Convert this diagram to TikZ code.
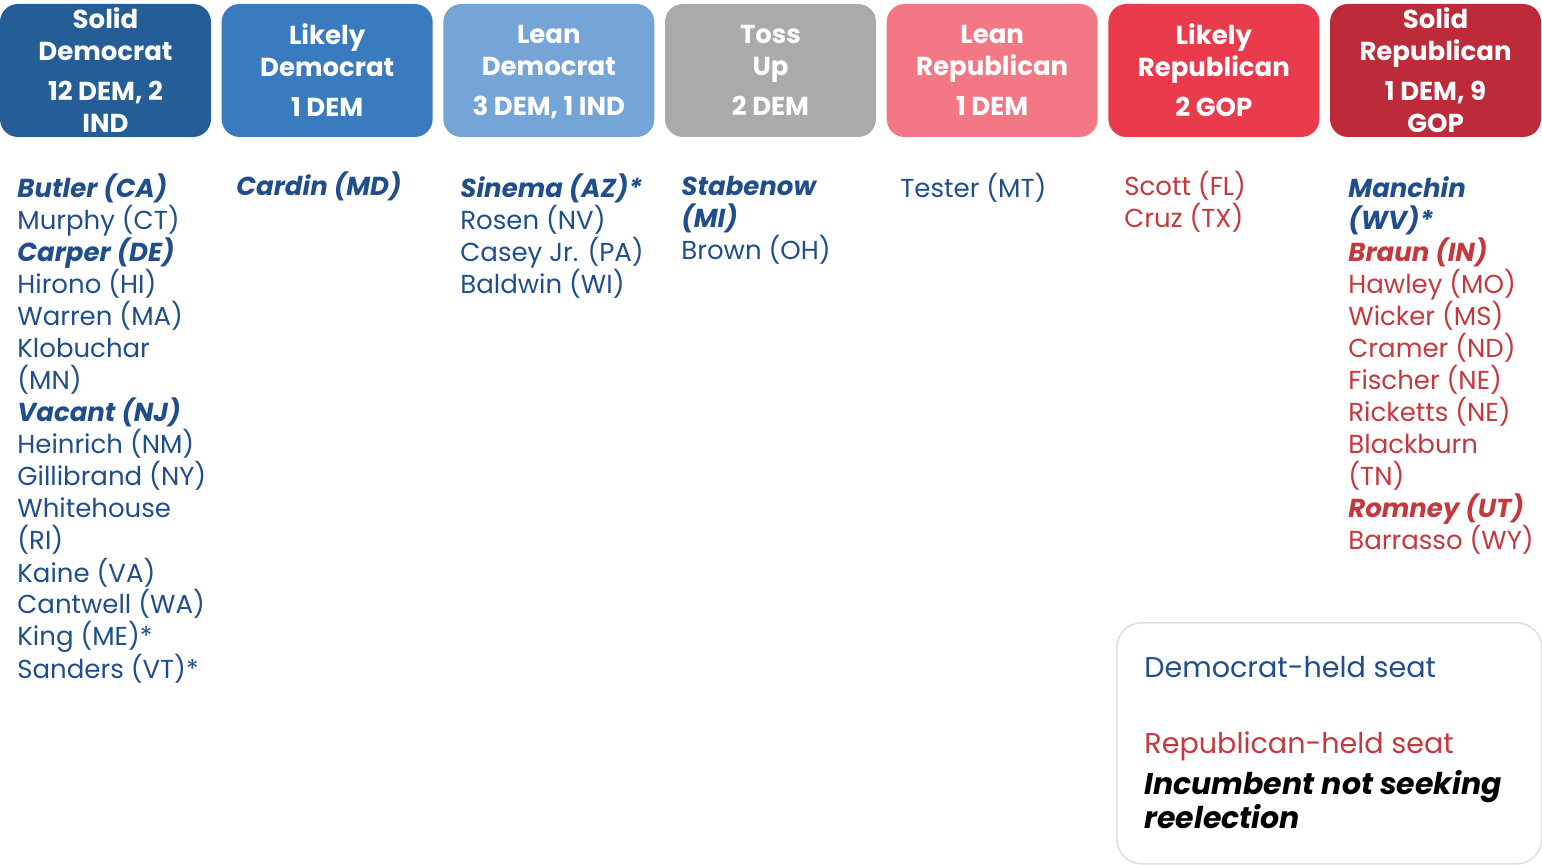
\documentclass[tikz,border=0pt]{standalone}
\usepackage{fontspec}
\setmainfont{Poppins}
\definecolor{soliddem}{RGB}{37,94,150}
\definecolor{likelydem}{RGB}{58,123,191}
\definecolor{leandem}{RGB}{116,165,214}
\definecolor{tossup}{RGB}{170,170,170}
\definecolor{leanrep}{RGB}{243,119,132}
\definecolor{likelyrep}{RGB}{233,59,75}
\definecolor{solidrep}{RGB}{189,42,57}
\definecolor{demtext}{RGB}{32,78,140}
\definecolor{reptext}{RGB}{196,56,62}
\newcommand{\inc}[1]{\textbf{\textit{#1}}}

\begin{document}
\begin{tikzpicture}[x=0.5pt, y=-0.5pt,
  rating/.style={rounded corners=9pt, minimum width=105.5pt, minimum height=66.5pt,
    inner sep=0pt, align=center, text=white, font=\fontsize{13}{16}\selectfont\bfseries,
    execute at end node=\vphantom{g}},
  seat/.style={anchor=base west, inner sep=0pt, font=\fontsize{13}{16}\selectfont},
  key/.style={anchor=base west, inner sep=0pt, font=\fontsize{14.3}{17}\selectfont}]
\useasboundingbox (0,0) rectangle (1542,865);
% rating boxes
\foreach \i / \fillc / \lbl in {
  1/soliddem/{Solid\\Democrat\\[4pt]12 DEM, 2\\IND},
  2/likelydem/{Likely\\Democrat\\[4pt]1 DEM},
  3/leandem/{Lean\\Democrat\\[4pt]3 DEM, 1 IND},
  4/tossup/{Toss\\Up\\[4pt]2 DEM},
  5/leanrep/{Lean\\Republican\\[4pt]1 DEM},
  6/likelyrep/{Likely\\Republican\\[4pt]2 GOP},
  7/solidrep/{Solid\\Republican\\[4pt]1 DEM, 9\\GOP}} {
  \node[rating, fill=\fillc] (h\i) at (-116.17+221.67*\i, 70.5) {};
  \node[rating, fill=none, draw=none] (t\i) at (-116.17+221.67*\i, 73.5) {\lbl};
}
% seats
\foreach \s [count=\k] in {\inc{Butler (CA)}, Murphy (CT), \inc{Carper (DE)}, Hirono (HI),
  Warren (MA), Klobuchar, (MN), \inc{Vacant (NJ)}, Heinrich (NM), Gillibrand (NY),
  Whitehouse, (RI), Kaine (VA), Cantwell (WA), King (ME)*, Sanders (VT)*}
  \node[seat, text=demtext] (sd-\k) at (17, 166+32*\k) {\s};
\node[seat, text=demtext] (ld-1) at (236, 196) {\inc{Cardin (MD)}};
\foreach \s [count=\k] in {\inc{Sinema (AZ)*}, Rosen (NV), Casey Jr. (PA), Baldwin (WI)}
  \node[seat, text=demtext] (nd-\k) at (460, 166+32*\k) {\s};
\foreach \s [count=\k] in {\inc{Stabenow}, \inc{(MI)}, Brown (OH)}
  \node[seat, text=demtext] (tu-\k) at (681, 164+32*\k) {\s};
\node[seat, text=demtext] (nr-1) at (900, 198) {Tester (MT)};
\foreach \s [count=\k] in {Scott (FL), Cruz (TX)}
  \node[seat, text=reptext] (lr-\k) at (1124, 164+32*\k) {\s};
\foreach \s [count=\k] in {{\color{demtext}\inc{Manchin}}, {\color{demtext}\inc{(WV)*}},
  \inc{Braun (IN)}, Hawley (MO), Wicker (MS), Cramer (ND), Fischer (NE), Ricketts (NE),
  Blackburn, (TN), \inc{Romney (UT)}, Barrasso (WY)}
  \node[seat, text=reptext] (sr-\k) at (1348, 166+32*\k) {\s};
% key
\node[draw=gray!25, line width=0.8pt, rounded corners=12.5pt, minimum width=212.5pt,
  minimum height=120.5pt, anchor=north west] (legend) at (1116, 622) {};
\node[key, text=demtext] (k-dem) at (1144, 677) {Democrat-held seat};
\node[key, text=reptext] (k-rep) at (1144, 753) {Republican-held seat};
\node[key, font=\fontsize{15}{17}\selectfont] (k-inc) at (1144, 794) {\inc{Incumbent not seeking}};
\node[key, font=\fontsize{15}{17}\selectfont] (k-inc2) at (1144, 828) {\inc{reelection}};
\end{tikzpicture}
\end{document}
